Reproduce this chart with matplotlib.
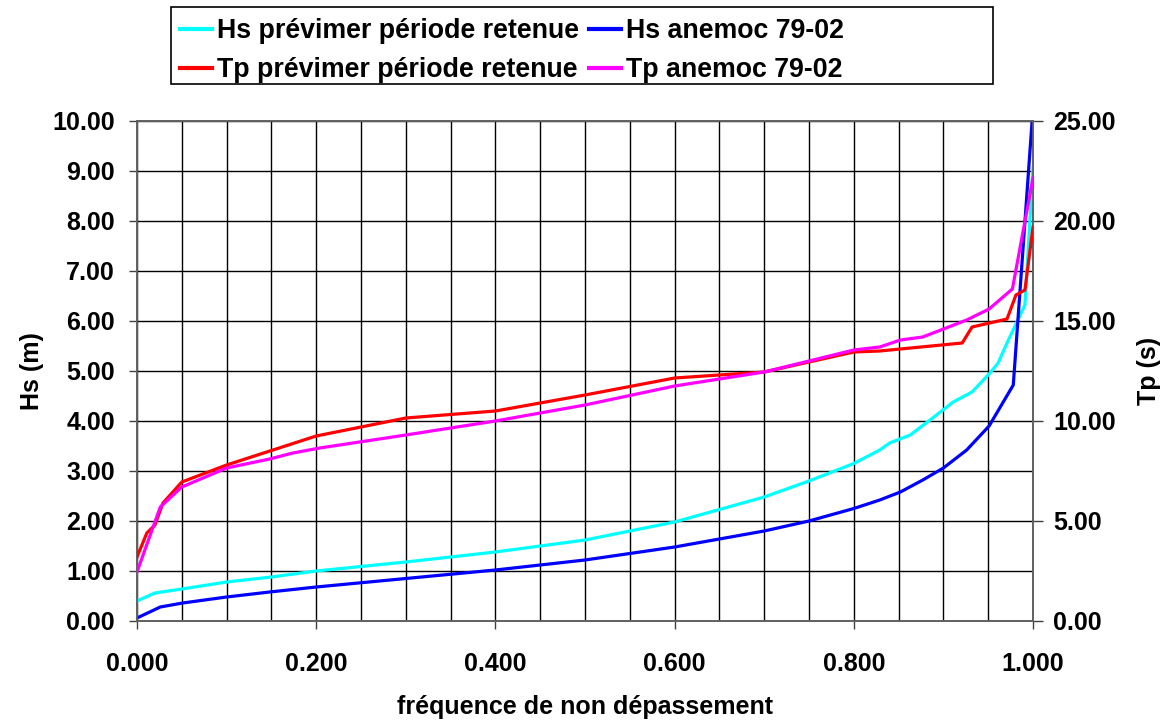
import numpy as np
from matplotlib import pyplot as plt
from matplotlib.patches import Rectangle

plt.rcParams['font.family'] = ['Liberation Sans', 'DejaVu Sans']
plt.rcParams['font.weight'] = 'bold'

# Hs prévimer période retenue
freq_hs_prev = [0.0, 0.02, 0.05, 0.10, 0.15, 0.20, 0.30, 0.40, 0.50, 0.60, 0.70, 0.75,
                0.80, 0.829, 0.840, 0.863, 0.888, 0.911, 0.932, 0.952, 0.961, 0.971, 0.991, 1.0]
hs_prev = [0.40, 0.56, 0.64, 0.78, 0.88, 1.00, 1.18, 1.38, 1.62, 1.98, 2.48, 2.80,
           3.15, 3.42, 3.56, 3.72, 4.06, 4.38, 4.58, 4.96, 5.16, 5.56, 6.32, 9.06]

# Hs anemoc 79-02
freq_hs_anem = [0.0, 0.026, 0.051, 0.10, 0.148, 0.20, 0.30, 0.40, 0.50, 0.60, 0.70, 0.75,
                0.80, 0.829, 0.852, 0.877, 0.90, 0.926, 0.951, 0.978, 0.999]
hs_anem = [0.06, 0.28, 0.36, 0.48, 0.58, 0.68, 0.85, 1.02, 1.22, 1.48, 1.80, 2.00,
           2.25, 2.42, 2.58, 2.82, 3.06, 3.42, 3.90, 4.72, 10.0]

# Tp prévimer période retenue
freq_tp_prev = [0.0, 0.011, 0.02, 0.029, 0.05, 0.10, 0.20, 0.30, 0.40, 0.50, 0.60, 0.70,
                0.80, 0.829, 0.921, 0.932, 0.971, 0.981, 0.991, 1.0]
tp_prev = [3.2, 4.4, 4.8, 5.9, 6.95, 7.8, 9.25, 10.15, 10.5, 11.3, 12.15, 12.45,
           13.45, 13.5, 13.9, 14.7, 15.1, 16.3, 16.55, 19.7]

# Tp anemoc 79-02
freq_tp_anem = [0.0, 0.026, 0.05, 0.10, 0.148, 0.174, 0.204, 0.30, 0.40, 0.50, 0.60, 0.70,
                0.75, 0.80, 0.829, 0.852, 0.877, 0.926, 0.951, 0.977, 1.0]
tp_anem = [2.45, 5.7, 6.7, 7.65, 8.1, 8.4, 8.65, 9.3, 10.0, 10.8, 11.75, 12.45,
           13.0, 13.55, 13.7, 14.05, 14.2, 15.05, 15.6, 16.6, 22.15]

W, H = 1167, 720
fig = plt.figure(figsize=(W / 100, H / 100), dpi=100)
ax = fig.add_axes([137 / W, 1 - 621 / H, 896 / W, 500 / H])
ax2 = ax.twinx()

lw = 2.3
l1, = ax.plot(freq_hs_prev, hs_prev, color='#00ffff', lw=lw, zorder=3)
l2, = ax.plot(freq_hs_anem, hs_anem, color='#0000ff', lw=lw, zorder=3)
l3, = ax2.plot(freq_tp_prev, tp_prev, color='#ff0000', lw=lw, zorder=3)
l4, = ax2.plot(freq_tp_anem, tp_anem, color='#ff00ff', lw=lw, zorder=3)

ax.set_xlim(0, 1)
ax.set_ylim(0, 10)
ax2.set_ylim(0, 25)

xt = np.arange(0, 1.001, 0.2)
ax.set_xticks(xt)
ax.set_xticklabels(['%.3f' % v for v in xt])
ax.set_xticks(np.arange(0, 1.001, 0.05), minor=True)
yt = np.arange(0, 10.01, 1)
ax.set_yticks(yt)
ax.set_yticklabels(['%.2f' % v for v in yt])
yt2 = np.arange(0, 25.01, 5)
ax2.set_yticks(yt2)
ax2.set_yticklabels(['%.2f' % v for v in yt2])

ax.grid(True, which='both', color='black', lw=1.0)
ax.set_axisbelow(True)
ax.tick_params(axis='x', which='minor', length=0)
ax.tick_params(axis='x', which='major', labelsize=18, length=6, width=1,
               color='#404040', pad=16)
ax.tick_params(axis='y', which='major', labelsize=18, length=6, width=1,
               color='#404040', pad=10)
ax2.tick_params(axis='y', labelsize=18, length=7, width=1, color='#404040', pad=7.5)
for sp in list(ax.spines.values()) + list(ax2.spines.values()):
    sp.set_color('#606060')
    sp.set_linewidth(1.2)

ax.set_ylabel('Hs (m)', fontsize=18, fontweight='bold', labelpad=6)
ax2.set_ylabel('Tp (s)', fontsize=18, fontweight='bold', labelpad=15)
ax.set_xlabel('fréquence de non dépassement', fontsize=18, fontweight='bold', labelpad=14)

# legend box (wider than its content, as in the original)
fig.patches.append(Rectangle((171 / W, 1 - 84 / H), 822 / W, 77 / H,
                             transform=fig.transFigure, facecolor='white',
                             edgecolor='black', lw=1.2))
handles = [l1, l3, l2, l4]
labels = ['Hs prévimer période retenue', 'Tp prévimer période retenue',
          'Hs anemoc 79-02', 'Tp anemoc 79-02']
leg = fig.legend(handles, labels, ncol=2, loc='upper left',
                 bbox_to_anchor=(180 / W, 1 - 18 / H), fontsize=19.3,
                 frameon=False, handlelength=1.2, handletextpad=0.18,
                 columnspacing=0.36, borderpad=0.0, labelspacing=0.5,
                 borderaxespad=0)
for h in leg.legend_handles:
    h.set_linewidth(3)

fig.savefig('out.png', dpi=100)
